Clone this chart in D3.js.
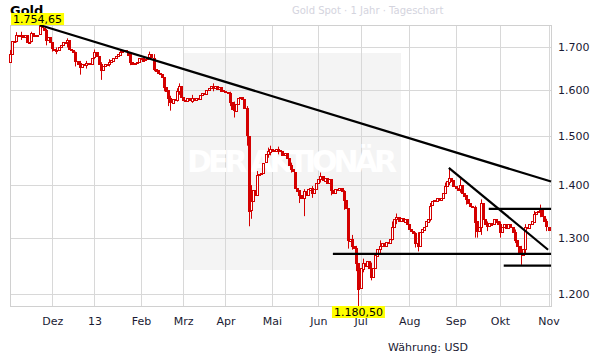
<!DOCTYPE html>
<html lang="de">
<head>
<meta charset="utf-8" />
<script src="https://cdn.jsdelivr.net/npm/d3@7"></script>
<style>
body { margin: 0; background: #fff; }
svg { font-family: "DejaVu Sans", Verdana, sans-serif; font-size: 11px; }
.axis text { fill: #1a1a33; }
</style>
</head>
<body>
<svg id="chart" width="611" height="364"></svg>
<script>
// daily closes (USD), Nov 2012 - Nov 2013, one per trading day
var firstOpen = 1666;
var closes = [
  1684, 1715, 1716, 1730, 1728, 1731, 1725, 1730, 1713, 1714,
  1734, 1726, 1729, 1731, 1751, 1748, 1742, 1717, 1725, 1712,
  1697, 1694, 1692, 1700, 1705, 1712, 1714, 1718, 1696, 1695,
  1690, 1668, 1662, 1652, 1660, 1658, 1662, 1660, 1663, 1676,
  1689, 1680, 1661, 1648, 1657, 1661, 1660, 1665, 1670, 1676,
  1680, 1684, 1690, 1692, 1693, 1690, 1684, 1665, 1660, 1663,
  1666, 1675, 1676, 1670, 1673, 1678, 1684, 1676, 1650, 1646,
  1640, 1638, 1630, 1608, 1600, 1582, 1572, 1580, 1578, 1598,
  1610, 1585, 1578, 1576, 1582, 1578, 1584, 1580, 1584, 1582,
  1590, 1595, 1594, 1602, 1606, 1610, 1606, 1610, 1604, 1608,
  1600, 1598, 1597, 1595, 1575, 1560, 1555, 1570, 1583, 1585,
  1580, 1560, 1501, 1350, 1368, 1390, 1380, 1420, 1423, 1425,
  1445, 1462, 1468, 1474, 1470, 1468, 1473, 1470, 1468, 1460,
  1465, 1455, 1440, 1432, 1427, 1395, 1390, 1380, 1375, 1388,
  1380, 1392, 1395, 1385, 1393, 1405, 1412, 1418, 1410, 1415,
  1405, 1412, 1390, 1385, 1392, 1390, 1394, 1388, 1370, 1355,
  1295, 1298, 1285, 1282, 1255, 1210, 1245, 1255, 1250, 1258,
  1245, 1230, 1245, 1268, 1280, 1285, 1290, 1285, 1292, 1290,
  1297, 1320, 1335, 1338, 1330, 1336, 1330, 1335, 1325, 1315,
  1312, 1308, 1290, 1285, 1310, 1315, 1320, 1330, 1335, 1360,
  1368, 1370, 1375, 1372, 1375, 1385, 1398, 1408, 1415, 1410,
  1398, 1395, 1392, 1400, 1385, 1380, 1372, 1365, 1360, 1358,
  1330, 1312, 1320, 1365, 1335, 1325, 1322, 1328, 1325, 1335,
  1330, 1325, 1310, 1320, 1325, 1318, 1325, 1320, 1310, 1296,
  1285, 1275, 1270, 1280, 1320, 1318, 1325, 1330, 1345, 1348,
  1350, 1352, 1340, 1330, 1320, 1315
];
// [index, low, high] for days with visible shadows
var wicks = [
  [0, 1664, 1694], [3, 1712, 1737], [5, 1718, 1738], [10, 1712, 1738],
  [14, 1735, 1754.65], [17, 1705, 1745], [20, 1690, 1712], [22, 1684, 1700],
  [27, 1700, 1722], [31, 1655, 1690], [33, 1636, 1668], [36, 1650, 1668],
  [40, 1672, 1695], [43, 1624, 1665], [47, 1655, 1672], [52, 1680, 1696],
  [57, 1658, 1684], [66, 1672, 1690], [68, 1644, 1684], [73, 1598, 1630],
  [75, 1565, 1600], [76, 1555, 1588], [79, 1575, 1605], [80, 1590, 1616],
  [86, 1572, 1590], [96, 1598, 1616], [104, 1565, 1597], [106, 1540, 1575],
  [112, 1480, 1565], [113, 1321, 1500], [114, 1335, 1400], [117, 1380, 1428],
  [122, 1455, 1476], [123, 1460, 1480], [127, 1462, 1478], [133, 1425, 1445],
  [137, 1365, 1390], [139, 1340, 1392], [143, 1375, 1398], [147, 1405, 1425],
  [152, 1380, 1405], [158, 1352, 1390], [160, 1280, 1355], [162, 1278, 1305],
  [164, 1240, 1285], [165, 1180.5, 1230], [167, 1238, 1262], [171, 1224, 1255],
  [175, 1272, 1295], [181, 1295, 1330], [183, 1325, 1345], [192, 1282, 1310],
  [193, 1275, 1310], [199, 1330, 1365], [206, 1383, 1405], [208, 1400, 1433.5],
  [213, 1385, 1412], [216, 1362, 1380], [220, 1300, 1360], [221, 1300, 1330],
  [223, 1305, 1372], [226, 1312, 1330], [232, 1300, 1330], [239, 1290, 1315],
  [242, 1251, 1285], [244, 1270, 1325], [248, 1330, 1350], [251, 1338, 1362],
  [254, 1312, 1335]
];
var monthLabels = ["Dez", "13", "Feb", "Mrz", "Apr", "Mai", "Jun", "Jul", "Aug", "Sep", "Okt", "Nov"];
var monthStart = [20, 40, 62, 82, 102, 124, 146, 166, 189, 211, 232, 255];
var yTicks = [1200, 1300, 1400, 1500, 1600, 1700];
// trend lines: [index0, value0, index1, value1]
var trendLines = [
  [14, 1754.65, 256.2, 1407],
  [207.8, 1434.6, 254.8, 1278],
  [152.9, 1270.7, 256.2, 1270.7],
  [226.7, 1354, 256.2, 1354],
  [233.8, 1249.5, 256.2, 1249.5]
];
var highMark = { i: 14, v: 1754.65 };
var lowMark = { i: 165, v: 1180.5 };

var de = d3.formatLocale({ decimal: ",", thousands: ".", grouping: [3], currency: ["", " USD"] });
var fmtTick = de.format(",.0f"), fmtVal = de.format(",.2f");

var svg = d3.select("#chart");
var plotL = 10, plotR = 551, plotT = 25, plotB = 306;

var x = d3.scaleLinear().domain([0, 255]).range([10, 548.5]);
var y = d3.scaleLog().domain([1180.5, 1754.65]).range([plotB, plotT]);

// watermark box
svg.append("rect")
    .attr("x", 184).attr("y", 53).attr("width", 217).attr("height", 217)
    .attr("fill", "#f4f4f4");

// grid
svg.append("g").selectAll("line")
    .data(yTicks)
  .enter().append("line")
    .attr("x1", plotL).attr("x2", plotR)
    .attr("y1", function(d) { return Math.round(y(d)) + 0.5; })
    .attr("y2", function(d) { return Math.round(y(d)) + 0.5; })
    .attr("stroke", "#d8d8d8");

svg.append("g").selectAll("line")
    .data(monthStart)
  .enter().append("line")
    .attr("x1", function(d) { return Math.round(x(d)) + 0.5; })
    .attr("x2", function(d) { return Math.round(x(d)) + 0.5; })
    .attr("y1", plotT).attr("y2", plotB)
    .attr("stroke", "#d8d8d8");

svg.append("rect")
    .attr("x", plotL + 0.5).attr("y", plotT + 0.5)
    .attr("width", plotR - plotL).attr("height", plotB - plotT)
    .attr("fill", "none").attr("stroke", "#d0d0d0");

svg.append("text")
    .attr("x", 292).attr("y", 172)
    .attr("text-anchor", "middle")
    .attr("textLength", 210).attr("lengthAdjust", "spacing")
    .style("font-size", "30px").style("font-weight", "bold")
    .attr("fill", "#fff")
    .text("DER AKTIONÄR");

// candles
var red = "#d40000";
svg.append("g").selectAll("line")
    .data(wicks)
  .enter().append("line")
    .attr("x1", function(d) { return Math.round(x(d[0])) + 0.5; })
    .attr("x2", function(d) { return Math.round(x(d[0])) + 0.5; })
    .attr("y1", function(d) { return y(d[1]); })
    .attr("y2", function(d) { return y(d[2]); })
    .attr("stroke", red);

svg.append("g").selectAll("rect")
    .data(closes)
  .enter().append("rect")
    .attr("x", function(d, i) { return Math.round(x(i)) - 0.5; })
    .attr("width", 2)
    .attr("y", function(d, i) {
      var o = i ? closes[i - 1] : firstOpen;
      return Math.round(y(Math.max(o, d))) + 0.5;
    })
    .attr("height", function(d, i) {
      var o = i ? closes[i - 1] : firstOpen;
      return Math.max(1, Math.round(y(Math.min(o, d)) - y(Math.max(o, d))));
    })
    .attr("fill", function(d, i) {
      var o = i ? closes[i - 1] : firstOpen;
      return d >= o ? "#fff" : red;
    })
    .attr("stroke", red);

// trend lines
svg.append("g").selectAll("line")
    .data(trendLines)
  .enter().append("line")
    .attr("x1", function(d) { return x(d[0]); })
    .attr("y1", function(d) { return y(d[1]); })
    .attr("x2", function(d) { return x(d[2]); })
    .attr("y2", function(d) { return y(d[3]); })
    .attr("stroke", "#000").attr("stroke-width", 2.2);

// axes
var yAxis = svg.append("g")
    .attr("class", "axis")
    .attr("transform", "translate(" + plotR + ",0)")
    .call(d3.axisRight(y).tickValues(yTicks).tickSize(0).tickPadding(7).tickFormat(fmtTick));
yAxis.select(".domain").remove();
yAxis.selectAll("text").style("font-size", "11px").style("font-family", "DejaVu Sans, Verdana, sans-serif");

var xAxis = svg.append("g")
    .attr("class", "axis")
    .attr("transform", "translate(0," + plotB + ")")
    .call(d3.axisBottom(x).tickValues(monthStart).tickSize(0).tickPadding(11)
      .tickFormat(function(d, i) { return monthLabels[i]; }));
xAxis.select(".domain").remove();
xAxis.selectAll("text").style("font-size", "11px").style("font-family", "DejaVu Sans, Verdana, sans-serif");

// header
svg.append("text")
    .attr("x", 10).attr("y", 15)
    .style("font-size", "13px").style("font-weight", "bold")
    .attr("fill", "#000")
    .text("Gold");

svg.append("text")
    .attr("x", 292).attr("y", 14)
    .style("font-size", "10px")
    .attr("fill", "#d4d4de")
    .text("Gold Spot · 1 Jahr · Tageschart");

// high / low labels
function marker(cx, yTop, label) {
  var g = svg.append("g");
  var t = g.append("text")
      .attr("x", cx).attr("y", yTop + 10)
      .attr("text-anchor", "middle")
      .style("font-size", "11px")
      .text(label);
  var w = t.node().getComputedTextLength() + 4;
  g.insert("rect", "text")
      .attr("x", cx - w / 2).attr("y", yTop)
      .attr("width", w).attr("height", 12)
      .attr("fill", "#ffff00");
}
marker(x(highMark.i) - 2, plotT - 12, fmtVal(highMark.v));
marker(x(lowMark.i), plotB, fmtVal(lowMark.v));

svg.append("text")
    .attr("x", 388).attr("y", 351)
    .style("font-size", "11px")
    .attr("fill", "#1a1a33")
    .text("Währung: USD");
</script>
</body>
</html>
